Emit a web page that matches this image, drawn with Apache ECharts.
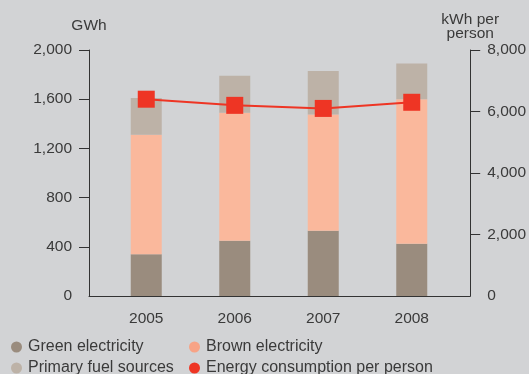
<!DOCTYPE html>
<html>
<head>
<meta charset="utf-8">
<script src="https://cdn.jsdelivr.net/npm/echarts@6/dist/echarts.min.js"></script>
<style>
  html, body { margin: 0; padding: 0; background: #D2D3D5; }
  #chart { width: 529px; height: 374px; }
</style>
</head>
<body>
<div id="chart"></div>
<script>
// Energy use by source (GWh) and consumption per person (kWh)
const years = ['2005', '2006', '2007', '2008'];
const greenElectricity = [340, 450, 530, 425];
const brownElectricity = [970, 1040, 945, 1175];
const primaryFuel = [300, 300, 355, 290];
const perPerson = [6400, 6200, 6100, 6300];
const gwhTicks = [400, 800, 1200, 1600, 2000];
const perPersonTicks = [2000, 4000, 6000, 8000];

const FONT = "'Liberation Sans', Arial, sans-serif";
const TEXT = '#3a3a3a';
const AXIS = '#333333';
const fmt = v => Number(v).toLocaleString('en-US');

// legend laid out as a 2x2 block: [name, left, top, swatch colour]
const legendSlots = [
  ['Green electricity', 11, 339, '#9A8C7E'],
  ['Brown electricity', 189, 339, '#F7A386'],
  ['Primary fuel sources', 11, 360, '#BDB2A7'],
  ['Energy consumption per person', 189, 360, '#EE3524']
];

const chart = echarts.init(document.getElementById('chart'), null, { renderer: 'canvas' });

chart.setOption({
  backgroundColor: '#D2D3D5',
  textStyle: { fontFamily: FONT, color: TEXT },
  animation: false,
  grid: [
    // frame grid: carries the visible axes
    { left: 89, right: 58, top: 50, height: 246 },
    // plotting grid: carries the bars and the line
    { left: 102, right: 73, top: 50, height: 246 }
  ],
  legend: legendSlots.map(([name, left, top, color]) => ({
    data: [{ name: name, itemStyle: { color: color } }],
    left: left, top: top, padding: 0,
    icon: 'circle', itemWidth: 11, itemHeight: 11, itemGap: 0,
    textStyle: { fontSize: 16, color: TEXT, fontFamily: FONT, padding: [0, 0, 0, 1] }
  })),
  xAxis: [
    {
      gridIndex: 0, type: 'value', min: 0, max: 1,
      axisLine: { show: true, lineStyle: { color: AXIS, width: 1 } },
      axisTick: { show: false }, axisLabel: { show: false }, splitLine: { show: false }
    },
    {
      gridIndex: 1, type: 'category', data: years,
      axisLine: { show: false }, axisTick: { show: false },
      axisLabel: { margin: 15, fontSize: 15.5, color: TEXT, fontFamily: FONT }
    }
  ],
  yAxis: [
    {
      gridIndex: 0, type: 'value', position: 'left', min: 0, max: 2000, interval: 400,
      name: 'GWh', nameLocation: 'end', nameGap: 16,
      nameTextStyle: { fontSize: 15.5, color: TEXT, fontFamily: FONT, align: 'center' },
      axisLine: { show: true, lineStyle: { color: AXIS, width: 1 } },
      axisTick: { show: true, length: 10, customValues: gwhTicks, lineStyle: { color: AXIS } },
      axisLabel: { margin: 17, fontSize: 15.5, color: TEXT, fontFamily: FONT, formatter: fmt },
      splitLine: { show: false }
    },
    {
      gridIndex: 0, type: 'value', position: 'right', min: 0, max: 8000, interval: 2000,
      name: 'kWh per\nperson', nameLocation: 'end', nameGap: 7,
      nameTextStyle: { fontSize: 15.5, color: TEXT, fontFamily: FONT, align: 'center', lineHeight: 14 },
      axisLine: { show: true, lineStyle: { color: AXIS, width: 1 } },
      axisTick: { show: true, length: 10, customValues: perPersonTicks, lineStyle: { color: AXIS } },
      axisLabel: { margin: 17, fontSize: 15.5, color: TEXT, fontFamily: FONT, formatter: fmt },
      splitLine: { show: false }
    },
    { gridIndex: 1, type: 'value', min: 0, max: 2000, show: false },
    { gridIndex: 1, type: 'value', min: 0, max: 8000, show: false }
  ],
  series: [
    {
      name: 'Green electricity', type: 'bar', stack: 'gwh',
      xAxisIndex: 1, yAxisIndex: 2, barWidth: 31,
      itemStyle: { color: '#9A8C7E' }, data: greenElectricity
    },
    {
      name: 'Brown electricity', type: 'bar', stack: 'gwh',
      xAxisIndex: 1, yAxisIndex: 2, barWidth: 31,
      itemStyle: { color: '#FAB89C' }, data: brownElectricity
    },
    {
      name: 'Primary fuel sources', type: 'bar', stack: 'gwh',
      xAxisIndex: 1, yAxisIndex: 2, barWidth: 31,
      itemStyle: { color: '#BDB2A7' }, data: primaryFuel
    },
    {
      name: 'Energy consumption per person', type: 'line',
      xAxisIndex: 1, yAxisIndex: 3, z: 5,
      symbol: 'rect', symbolSize: 17,
      lineStyle: { color: '#EE3524', width: 2 },
      itemStyle: { color: '#EE3524' },
      data: perPerson
    }
  ]
});
</script>
</body>
</html>
